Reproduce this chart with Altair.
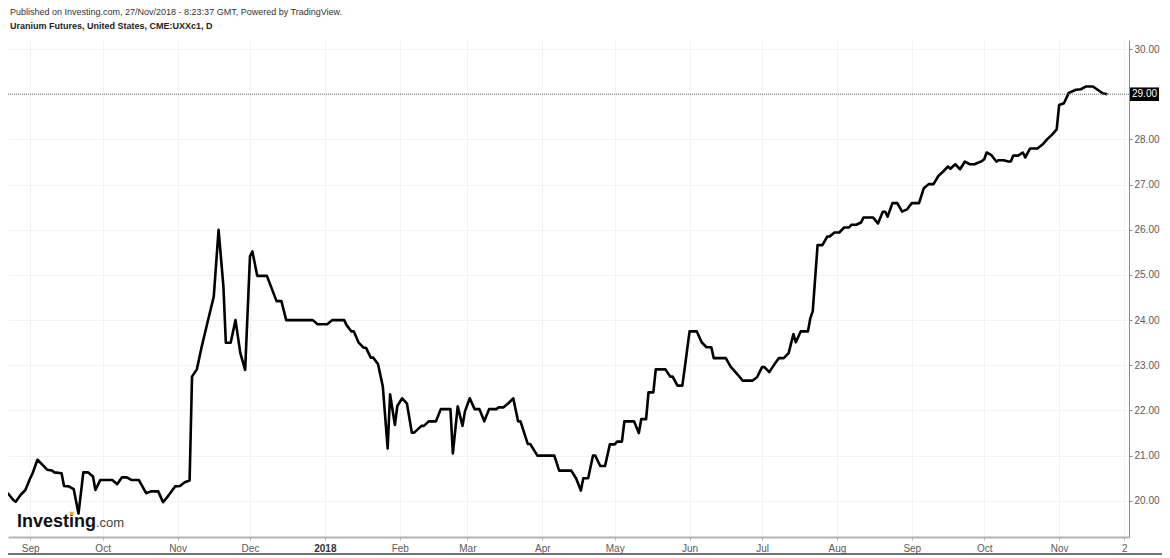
import altair as alt
import pandas as pd

# ---------------- data ----------------
header_lines = [
    "Published on Investing.com, 27/Nov/2018 - 8:23:37 GMT, Powered by TradingView.",
    "Uranium Futures, United States, CME:UXXc1, D",
]

dates = [
    "2017-08-20", "2017-08-23", "2017-08-25", "2017-08-26", "2017-08-28", "2017-08-30",
    "2017-09-01", "2017-09-02", "2017-09-04", "2017-09-06", "2017-09-08", "2017-09-10",
    "2017-09-11", "2017-09-14", "2017-09-15", "2017-09-17", "2017-09-19", "2017-09-21",
    "2017-09-23", "2017-09-25", "2017-09-27", "2017-09-28", "2017-09-30",
    "2017-10-05", "2017-10-07", "2017-10-09", "2017-10-11", "2017-10-13", "2017-10-16",
    "2017-10-19", "2017-10-21", "2017-10-24", "2017-10-26", "2017-10-28", "2017-10-31",
    "2017-11-02", "2017-11-04", "2017-11-06", "2017-11-07", "2017-11-09", "2017-11-11",
    "2017-11-14", "2017-11-16", "2017-11-18", "2017-11-20", "2017-11-21", "2017-11-23",
    "2017-11-25", "2017-11-27", "2017-11-29",
    "2017-12-01", "2017-12-02", "2017-12-04", "2017-12-08", "2017-12-12", "2017-12-14",
    "2017-12-16", "2017-12-27", "2017-12-29",
    "2018-01-02", "2018-01-04", "2018-01-09", "2018-01-10", "2018-01-12", "2018-01-13",
    "2018-01-15", "2018-01-17", "2018-01-18", "2018-01-20", "2018-01-21", "2018-01-23",
    "2018-01-25", "2018-01-27", "2018-01-28", "2018-01-30", "2018-01-31",
    "2018-02-02", "2018-02-04", "2018-02-06", "2018-02-07", "2018-02-10", "2018-02-11",
    "2018-02-13", "2018-02-16", "2018-02-18", "2018-02-22", "2018-02-23", "2018-02-25",
    "2018-02-27", "2018-02-28",
    "2018-03-02", "2018-03-04", "2018-03-06", "2018-03-08", "2018-03-10", "2018-03-13",
    "2018-03-14", "2018-03-16", "2018-03-18", "2018-03-20", "2018-03-22", "2018-03-23",
    "2018-03-26", "2018-03-27", "2018-03-30",
    "2018-04-06", "2018-04-08", "2018-04-13", "2018-04-15", "2018-04-17", "2018-04-18",
    "2018-04-20", "2018-04-22", "2018-04-23", "2018-04-25", "2018-04-27", "2018-04-29",
    "2018-05-01", "2018-05-02", "2018-05-04", "2018-05-05", "2018-05-09", "2018-05-11",
    "2018-05-12", "2018-05-14", "2018-05-15", "2018-05-17", "2018-05-18", "2018-05-22",
    "2018-05-24", "2018-05-25", "2018-05-27", "2018-05-29", "2018-05-30",
    "2018-06-01", "2018-06-04", "2018-06-06", "2018-06-08", "2018-06-10", "2018-06-11",
    "2018-06-16", "2018-06-18", "2018-06-21", "2018-06-23", "2018-06-27", "2018-06-29",
    "2018-07-01", "2018-07-02", "2018-07-04", "2018-07-06", "2018-07-08", "2018-07-10",
    "2018-07-12", "2018-07-14", "2018-07-15", "2018-07-17", "2018-07-20", "2018-07-21",
    "2018-07-22", "2018-07-24", "2018-07-26", "2018-07-28", "2018-07-29", "2018-07-31",
    "2018-08-02", "2018-08-04", "2018-08-06", "2018-08-07", "2018-08-09", "2018-08-11",
    "2018-08-12", "2018-08-16", "2018-08-18", "2018-08-20", "2018-08-21", "2018-08-22",
    "2018-08-24", "2018-08-26", "2018-08-28", "2018-08-30",
    "2018-09-01", "2018-09-04", "2018-09-06", "2018-09-08", "2018-09-10", "2018-09-12",
    "2018-09-14", "2018-09-16", "2018-09-17", "2018-09-19", "2018-09-21", "2018-09-23",
    "2018-09-25", "2018-09-27", "2018-09-30",
    "2018-10-01", "2018-10-02", "2018-10-04", "2018-10-06", "2018-10-07", "2018-10-09",
    "2018-10-11", "2018-10-12", "2018-10-13", "2018-10-15", "2018-10-17", "2018-10-18",
    "2018-10-20", "2018-10-23", "2018-10-25", "2018-10-27", "2018-10-29", "2018-10-31",
    "2018-11-01",
    "2018-11-03", "2018-11-05", "2018-11-08", "2018-11-10", "2018-11-12", "2018-11-15",
    "2018-11-18", "2018-11-19", "2018-11-21",
]

prices = [
    20.27, 20.15, 20.02, 19.98, 20.13, 20.24,
    20.50, 20.61, 20.91, 20.80, 20.69, 20.67,
    20.63, 20.61, 20.33, 20.32, 20.26, 19.72,
    20.63, 20.63, 20.54, 20.24, 20.46,
    20.46, 20.37, 20.52, 20.52, 20.46, 20.46,
    20.17, 20.21, 20.21, 19.97, 20.10, 20.32,
    20.33, 20.41, 20.45, 22.75, 22.91, 23.41,
    24.08, 24.52, 26.00, 24.74, 23.50, 23.50,
    24.00, 23.27, 22.90,
    25.41, 25.52, 24.98, 24.98, 24.42, 24.42,
    24.00, 24.00, 23.91,
    23.91, 24.00, 24.00, 23.89, 23.75, 23.75,
    23.50, 23.39, 23.39, 23.17, 23.17, 23.03,
    22.53, 21.16, 22.36, 21.68, 22.10,
    22.27, 22.15, 21.51, 21.51, 21.66, 21.66,
    21.76, 21.76, 22.03, 22.03, 21.05, 22.09,
    21.66, 21.98,
    22.27, 22.03, 22.03, 21.76, 22.03, 22.03,
    22.07, 22.07, 22.16, 22.27, 21.76, 21.76,
    21.26, 21.26, 21.00,
    21.00, 20.67, 20.67, 20.50, 20.23, 20.50,
    20.50, 21.00, 21.00, 20.77, 20.77, 21.25,
    21.25, 21.31, 21.31, 21.76, 21.76, 21.50,
    21.81, 21.81, 22.40, 22.40, 22.91, 22.91,
    22.75, 22.75, 22.55, 22.55, 22.94,
    23.75, 23.75, 23.51, 23.40, 23.40, 23.16,
    23.16, 22.97, 22.79, 22.66, 22.66, 22.74,
    22.96, 22.96, 22.85, 23.01, 23.16, 23.16,
    23.27, 23.69, 23.51, 23.75, 23.75, 24.04,
    24.20, 25.66, 25.66, 25.85, 25.85, 25.94,
    25.94, 26.05, 26.05, 26.11, 26.11, 26.16,
    26.27, 26.27, 26.14, 26.40, 26.40, 26.29,
    26.59, 26.59, 26.40, 26.45,
    26.59, 26.59, 26.92, 27.01, 27.01, 27.19,
    27.29, 27.40, 27.35, 27.45, 27.34, 27.51,
    27.45, 27.45, 27.52,
    27.56, 27.71, 27.65, 27.51, 27.54, 27.54,
    27.51, 27.51, 27.64, 27.64, 27.71, 27.60,
    27.80, 27.80, 27.88, 28.00, 28.10, 28.22,
    28.76,
    28.80, 29.03, 29.10, 29.11, 29.17, 29.17,
    29.06, 29.02, 29.00,
]

last_price = [29.00]
y_tick_values = [20, 21, 22, 23, 24, 25, 26, 27, 28, 30]
x_tick_dates = [
    "2017-09-01", "2017-10-01", "2017-11-01", "2017-12-01", "2018-01-01", "2018-02-01",
    "2018-03-01", "2018-04-01", "2018-05-01", "2018-06-01", "2018-07-01", "2018-08-01",
    "2018-09-01", "2018-10-01", "2018-11-01", "2018-11-28",
]
x_tick_labels = ["Sep", "Oct", "Nov", "Dec", "2018", "Feb", "Mar", "Apr", "May",
                 "Jun", "Jul", "Aug", "Sep", "Oct", "Nov", "2"]
logo_parts = ["Investing", ".com"]

# ---------------- layout / style ----------------
W, H = 1121, 497
FONT = "Liberation Sans"
x_domain = ["2017-08-22 19:26", "2018-11-29 22:30"]


def dt(s):
    t = pd.Timestamp(s)
    return alt.DateTime(year=t.year, month=t.month, date=t.day,
                        hours=t.hour, minutes=t.minute, utc=True)


df = pd.DataFrame({"date": dates, "price": prices})
last_df = pd.DataFrame({"price": last_price})

tick_ms = [int(pd.Timestamp(d).value // 10**6) for d in x_tick_dates]
label_expr = "[{}][indexof([{}], time(datum.value))]".format(
    ",".join("'" + s + "'" for s in x_tick_labels),
    ",".join(str(v) for v in tick_ms),
)

x_scale = alt.Scale(type="utc", domain=[dt(d) for d in x_domain], nice=False)
y_scale = alt.Scale(domain=[19.2, 30.2], nice=False, zero=False)

x_axis = alt.Axis(
    values=[dt(d) for d in x_tick_dates],
    labelExpr=label_expr,
    labelFont=FONT,
    labelFontSize=10,
    labelColor={"condition": {"test": "utcmonth(datum.value) == 0", "value": "#333333"},
                "value": "#5a5a5a"},
    labelFontWeight={"condition": {"test": "utcmonth(datum.value) == 0", "value": "bold"},
                     "value": "normal"},
    labelPadding=3,
    labelOverlap=False,
    labelFlush=False,
    domainColor="#b4b4b4",
    domainWidth=2,
    tickColor="#b4b4b4",
    tickSize=3,
    grid=True,
    gridColor="#f2f2f2",
    gridWidth=1,
    title=None,
)
y_axis = alt.Axis(
    orient="right",
    values=y_tick_values,
    format=".2f",
    labelFont=FONT,
    labelFontSize=10,
    labelColor="#5a5a5a",
    labelPadding=2,
    domainColor="#8c8c8c",
    tickColor="#8c8c8c",
    tickSize=3,
    grid=True,
    gridColor="#f2f2f2",
    gridWidth=1,
    title=None,
)

line = alt.Chart(df).mark_line(color="black", strokeWidth=2.6, strokeJoin="round", clip=True).encode(
    x=alt.X("date:T", scale=x_scale, axis=x_axis, title=None),
    y=alt.Y("price:Q", scale=y_scale, axis=y_axis, title=None),
)

last_rule = alt.Chart(last_df).mark_rule(color="#666666", strokeDash=[1, 1], strokeWidth=1).encode(
    y=alt.Y("price:Q", title=None)
)

last_box = alt.Chart(last_df).transform_calculate(
    lo="datum.price - 0.15", hi="datum.price + 0.15"
).mark_rect(color="black").encode(
    x=alt.value(W + 1), x2=alt.value(W + 30),
    y=alt.Y("lo:Q", title=None), y2="hi:Q",
)

last_text = alt.Chart(last_df).mark_text(
    color="white", font=FONT, fontSize=10, align="center", baseline="middle"
).encode(
    x=alt.value(W + 15.5),
    y=alt.Y("price:Q", title=None),
    text=alt.Text("price:Q", format=".2f"),
)

head1 = alt.Chart(pd.DataFrame({"t": [header_lines[0]]})).mark_text(
    font=FONT, fontSize=9, color="#333333", align="left", baseline="middle"
).encode(x=alt.value(2), y=alt.value(-28), text="t:N")

head2 = alt.Chart(pd.DataFrame({"t": [header_lines[1]]})).mark_text(
    font=FONT, fontSize=9, fontWeight="bold", color="#222222", align="left", baseline="middle"
).encode(x=alt.value(2), y=alt.value(-14), text="t:N")

logo1 = alt.Chart(pd.DataFrame({"t": [logo_parts[0]]})).mark_text(
    font=FONT, fontSize=18, fontWeight="bold", color="#111111", align="left", baseline="alphabetic"
).encode(x=alt.value(9), y=alt.value(487), text="t:N")

logo2 = alt.Chart(pd.DataFrame({"t": [logo_parts[1]]})).mark_text(
    font=FONT, fontSize=13, color="#444444", align="left", baseline="alphabetic"
).encode(x=alt.value(88), y=alt.value(487), text="t:N")

logo_dot = alt.Chart(pd.DataFrame({"t": [""]})).mark_square(
    color="#f5a623", size=12, opacity=1
).encode(x=alt.value(63.5), y=alt.value(473.5))

bottom_rule = alt.Chart(pd.DataFrame({"t": [""]})).mark_rule(
    color="#444444", strokeWidth=1.5
).encode(x=alt.value(0), x2=alt.value(W + 33), y=alt.value(H + 17))

chart = alt.layer(
    line, last_rule, last_box, last_text, head1, head2, logo1, logo2, logo_dot, bottom_rule
).properties(
    width=W,
    height=H,
    autosize=alt.AutoSizeParams(type="none"),
    padding={"left": 0, "top": 32, "right": 33, "bottom": 20},
    background="white",
).configure_view(stroke=None)

chart.save("out.html", embed_options={"renderer": "svg", "actions": False})
